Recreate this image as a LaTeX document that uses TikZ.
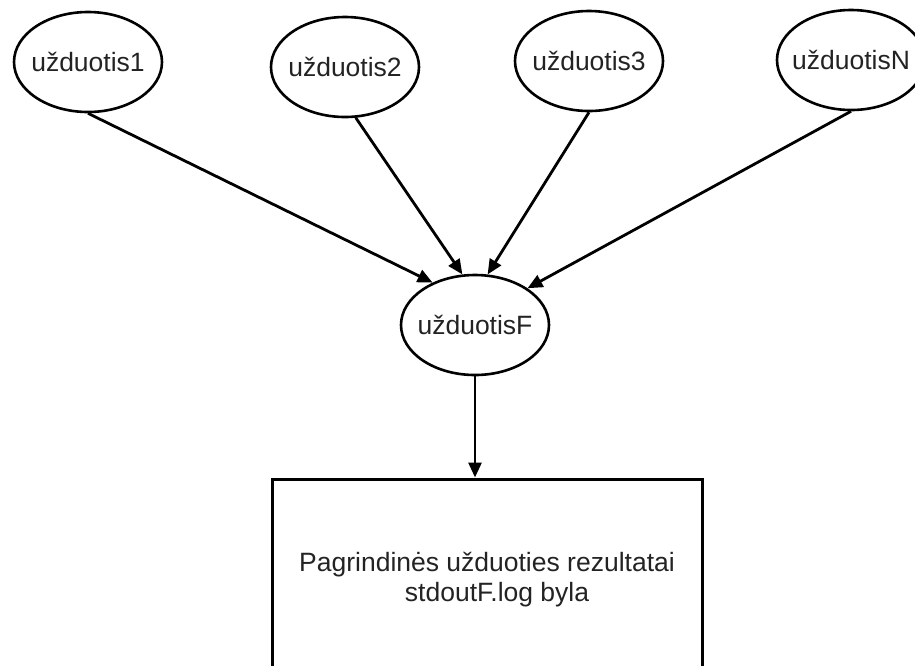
\documentclass[tikz,border=0pt]{standalone}
\usepackage{fontspec}
\setmainfont{Liberation Sans}
\usetikzlibrary{shapes.geometric,arrows.meta}
\definecolor{txt}{RGB}{35,35,35}
\begin{document}
\begin{tikzpicture}[x=1pt,y=-1pt,
  every node/.style={font=\fontsize{26.5}{30}\selectfont, text=txt},
  ell/.style={ellipse, draw=black, line width=2.6pt, minimum width=148pt, minimum height=100pt, inner sep=0pt},
  resbox/.style={rectangle, draw=black, line width=3pt, minimum width=430pt, minimum height=202pt, inner sep=0pt, align=center},
  conn/.style={draw=black, line width=2.8pt, -{Triangle[length=15pt,width=13pt]}}]
\useasboundingbox (0,0) rectangle (915,665);
\clip (0,0) rectangle (915,665);
\node[ell] (e1) at (88,62) {\makebox[0pt]{užduotis1}};
\node[ell] (e2) at (345,67) {\makebox[0pt]{užduotis2}};
\node[ell] (e3) at (589,61) {\makebox[0pt]{užduotis3}};
\node[ell] (eN) at (851,60) {\makebox[0pt]{užduotisN}};
\node[ell] (eF) at (475,325) {\makebox[0pt]{užduotisF}};
\node[resbox] (box) at (487,580) {Pagrindinės užduoties rezultatai\\\hspace*{20pt}stdoutF.log byla};
\draw[conn] (e1.south) -- (eF.135);
\draw[conn] (e2.-78) -- (eF.104);
\draw[conn] (e3.south) -- (eF.76);
\draw[conn] (eN.south) -- (eF.35);
\draw[conn] (eF.south) -- (eF.south |- box.north);
\end{tikzpicture}
\end{document}
